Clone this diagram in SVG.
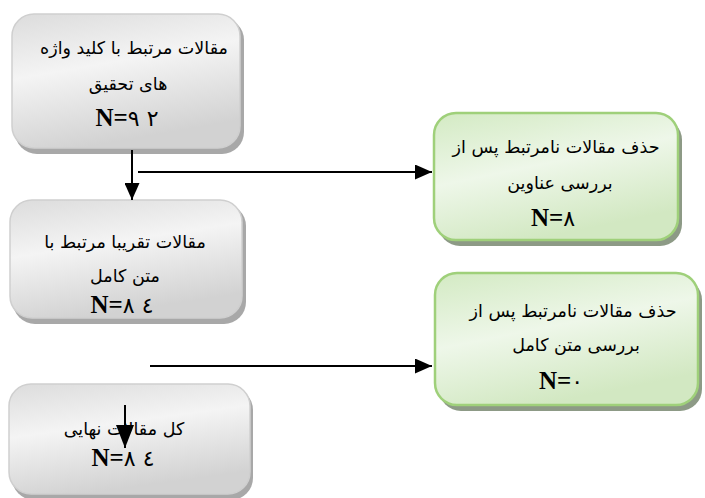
<svg xmlns="http://www.w3.org/2000/svg" width="705" height="498" viewBox="0 0 705 498">
<defs>
<linearGradient id="gray" x1="0" y1="0" x2="0.3" y2="1">
<stop offset="0" stop-color="#dcdcdc"/>
<stop offset="0.45" stop-color="#f4f4f4"/>
<stop offset="1" stop-color="#d2d2d2"/>
</linearGradient>
<linearGradient id="green" x1="0" y1="0" x2="0.4" y2="1">
<stop offset="0" stop-color="#d3eac3"/>
<stop offset="0.5" stop-color="#eef7e9"/>
<stop offset="1" stop-color="#d2e8c2"/>
</linearGradient>
<marker id="ah" markerUnits="userSpaceOnUse" markerWidth="17" markerHeight="15" refX="17" refY="7.5" orient="auto">
<path d="M0,0 L17,7.5 L0,15 z" fill="#000"/>
</marker>
<marker id="ah2" markerUnits="userSpaceOnUse" markerWidth="23" markerHeight="18" refX="23" refY="9" orient="auto">
<path d="M0,0 L23,9 L0,18 z" fill="#000"/>
</marker>
</defs>
<style>
.sh-g{fill:#a8a8a8}
.box-g{fill:url(#gray);stroke:#cfcfcf;stroke-width:1.5}
.sh-n{fill:#8d9a86}
.box-n{fill:url(#green);stroke:#9fd07a;stroke-width:2.5}
.fa{font-family:"DejaVu Sans",sans-serif;font-size:17.5px;fill:#000;text-anchor:middle}
.nn{font-size:25px;fill:#000;text-anchor:middle}
.nl{font-family:"Liberation Serif","Times New Roman",serif;font-weight:bold}
.nd{font-family:"DejaVu Sans",sans-serif;font-size:22px;font-weight:normal}
.ln{stroke:#000;stroke-width:2;fill:none}
</style>
<rect width="705" height="498" fill="#fff"/>
<g id="n1">
<rect class="sh-g" x="15" y="18" width="229" height="136" rx="22"/>
<rect class="box-g" x="12" y="14" width="228" height="134" rx="22"/>
<text class="fa" x="134" y="54" direction="rtl">مقالات مرتبط با کلید واژه</text>
<text class="fa" x="128" y="90" direction="rtl">های تحقیق</text>
<text class="nn" x="127" y="126"><tspan class="nl">N=</tspan><tspan class="nd">۹ ۲</tspan></text>
</g>
<g id="n2">
<rect class="sh-g" x="13" y="204" width="233" height="120" rx="22"/>
<rect class="box-g" x="10" y="200" width="232" height="118" rx="22"/>
<text class="fa" x="125" y="248" direction="rtl">مقالات تقریبا مرتبط با</text>
<text class="fa" x="125" y="282" direction="rtl">متن کامل</text>
<text class="nn" x="122" y="313"><tspan class="nl">N=</tspan><tspan class="nd">۸ ٤</tspan></text>
</g>
<g id="n3">
<rect class="sh-g" x="12" y="388" width="241" height="112" rx="22"/>
<rect class="box-g" x="9" y="384" width="241" height="110" rx="22"/>
<text class="fa" x="124" y="435" direction="rtl">کل مقالات نهایی</text>
<text class="nn" x="123" y="466"><tspan class="nl">N=</tspan><tspan class="nd">۸ ٤</tspan></text>
</g>
<g id="n4">
<rect class="sh-n" x="438" y="118" width="244" height="128" rx="22"/>
<rect class="box-n" x="434" y="113" width="244" height="127" rx="22"/>
<text class="fa" x="556" y="153" direction="rtl">حذف مقالات نامرتبط پس از</text>
<text class="fa" x="560" y="189" direction="rtl">بررسی عناوین</text>
<text class="nn" x="553" y="226"><tspan class="nl">N=</tspan><tspan class="nd">۸</tspan></text>
</g>
<g id="n5">
<rect class="sh-n" x="439" y="278" width="263" height="133" rx="22"/>
<rect class="box-n" x="435" y="273" width="263" height="132" rx="22"/>
<text class="fa" x="573" y="317" direction="rtl">حذف مقالات نامرتبط پس از</text>
<text class="fa" x="576" y="351" direction="rtl">بررسی متن کامل</text>
<text class="nn" x="561" y="389"><tspan class="nl">N=</tspan><tspan class="nd">۰</tspan></text>
</g>
<g id="connectors">
<line class="ln" x1="132" y1="150" x2="132" y2="200" marker-end="url(#ah)"/>
<line class="ln" x1="138" y1="172" x2="432" y2="172" marker-end="url(#ah)"/>
<line class="ln" x1="150" y1="366" x2="432" y2="366" marker-end="url(#ah)"/>
<line class="ln" x1="125" y1="405" x2="125" y2="448" marker-end="url(#ah2)"/>
</g>
</svg>
